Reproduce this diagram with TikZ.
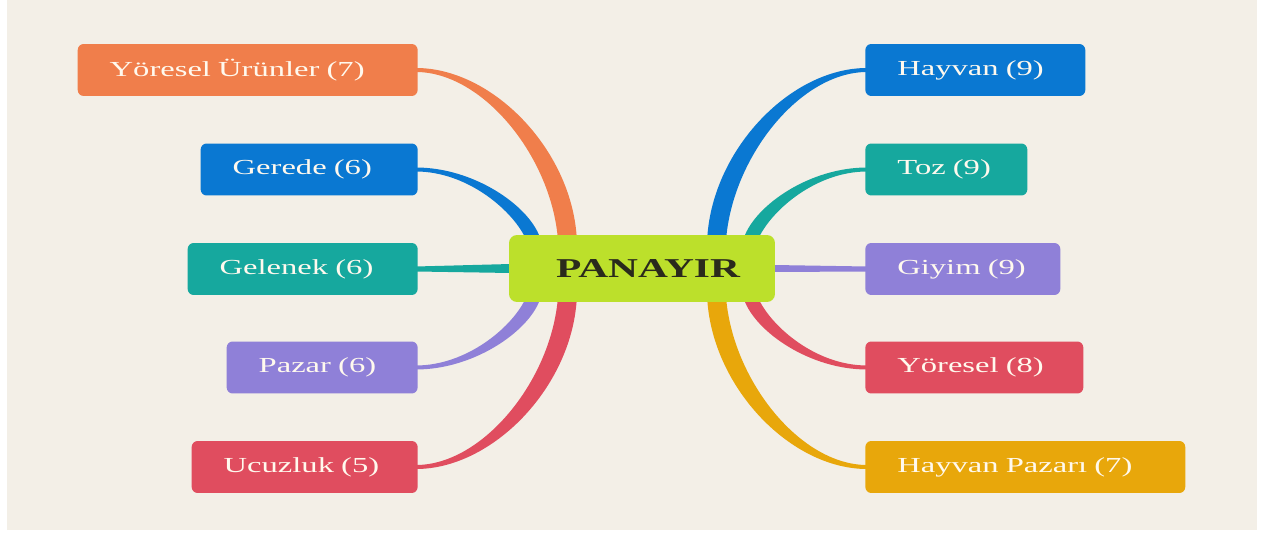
\documentclass[tikz,border=0pt]{standalone}
\usepackage{fontspec}
\setmainfont{Liberation Serif}
\newfontfamily\leaffont[FakeStretch=1.52]{Liberation Serif}
\usetikzlibrary{calc}
\pgfdeclarelayer{bg}
\pgfdeclarelayer{links}
\pgfsetlayers{bg,links,main}
\definecolor{cOr}{HTML}{F07E4B}
\definecolor{cBl}{HTML}{0A78D2}
\definecolor{cTe}{HTML}{16A89E}
\definecolor{cPu}{HTML}{8F80D8}
\definecolor{cRe}{HTML}{E04D5F}
\definecolor{cAm}{HTML}{E8A70B}
\definecolor{cLi}{HTML}{BCE02B}
\definecolor{cBg}{HTML}{F3EFE7}
\definecolor{cTx}{HTML}{FFF9EE}
\definecolor{cDk}{HTML}{2A2A1C}
\tikzset{
  leaf/.style={rectangle, rounded corners=0.12cm, minimum height=1.04cm,
    inner xsep=0.64cm, inner ysep=0pt, align=left, text=cTx,
    font=\leaffont\fontsize{12.2pt}{14pt}\selectfont},
  hub/.style={rectangle, rounded corners=0.16cm, fill=cLi, minimum height=1.34cm,
    minimum width=5.32cm, inner xsep=0.94cm, inner ysep=0pt, align=left, text width=3.44cm,
    text=cDk, font=\leaffont\fontsize{15.5pt}{18pt}\selectfont\bfseries}
}
\newcommand\outerbranch[3]{\fill[#1] ($(#2)+(-2,-2)$) .. controls +(76,0) and +(-6,-88) .. ($(#3)+(10,2)$) -- ($(#3)+(-9,2)$) .. controls +(-8,-82) and +(66,0) .. ($(#2)+(-2,2)$) -- cycle;}
\newcommand\innerbranch[3]{\fill[#1] ($(#2)+(-2,-2)$) .. controls +(57,0) and +(-12,-32) .. ($(#3)+(8,2)$) -- ($(#3)+(-7,2)$) .. controls +(-14,-28) and +(50,0) .. ($(#2)+(-2,2)$) -- cycle;}
\begin{document}
\begin{tikzpicture}[x=0.02cm, y=-0.02cm]
\useasboundingbox (0,0) rectangle (1262,540);
\begin{pgfonlayer}{bg}
  \fill[white] (0,0) rectangle (1262,540);
  \fill[cBg] (7,0) rectangle (1257,530);
\end{pgfonlayer}
% hub
\node[hub] (c) at (642,268.5) {PANAYIR};
% left leaves
\node[leaf, fill=cOr, anchor=east, text width=5.52cm] (yu) at (418,70) {Yöresel Ürünler (7)};
\node[leaf, fill=cBl, anchor=east, text width=3.06cm] (ge) at (418,169.5) {Gerede (6)};
\node[leaf, fill=cTe, anchor=east, text width=3.32cm] (gl) at (418,269) {Gelenek (6)};
\node[leaf, fill=cPu, anchor=east, text width=2.54cm] (pz) at (418,367.5) {Pazar (6)};
\node[leaf, fill=cRe, anchor=east, text width=3.24cm] (uc) at (418,467) {Ucuzluk (5)};
% right leaves
\node[leaf, fill=cBl, anchor=west, text width=3.12cm] (hy) at (865,70) {Hayvan (9)};
\node[leaf, fill=cTe, anchor=west, text width=1.96cm] (tz) at (865,169.5) {Toz (9)};
\node[leaf, fill=cPu, anchor=west, text width=2.62cm] (gy) at (865,269) {Giyim (9)};
\node[leaf, fill=cRe, anchor=west, text width=3.08cm] (yr) at (865,367.5) {Yöresel (8)};
\node[leaf, fill=cAm, anchor=west, text width=5.12cm] (hp) at (865,467) {Hayvan Pazarı (7)};
% attachment points on the hub
\coordinate (oTL) at ($(c.north west)+(58,0)$);
\coordinate (iTL) at ($(c.north west)+(23,0)$);
\coordinate (oBL) at ($(c.south west)+(58,0)$);
\coordinate (iBL) at ($(c.south west)+(23,0)$);
\coordinate (oTR) at ($(c.north east)+(-58,0)$);
\coordinate (iTR) at ($(c.north east)+(-23,0)$);
\coordinate (oBR) at ($(c.south east)+(-58,0)$);
\coordinate (iBR) at ($(c.south east)+(-23,0)$);
\begin{pgfonlayer}{links}
  \outerbranch{cOr}{yu.east}{oTL}
  \innerbranch{cBl}{ge.east}{iTL}
  \fill[cTe] ($(gl.east)+(-2,-2.5)$) -- ($(c.west)+(2,-4.5)$) -- ($(c.west)+(2,4.5)$) -- ($(gl.east)+(-2,2.5)$) -- cycle;
  \begin{scope}[yscale=-1]
    \outerbranch{cRe}{uc.east}{oBL}
    \innerbranch{cPu}{pz.east}{iBL}
  \end{scope}
  \begin{scope}[xscale=-1]
    \outerbranch{cBl}{hy.west}{oTR}
    \innerbranch{cTe}{tz.west}{iTR}
  \end{scope}
  \fill[cPu] ($(gy.west)+(2,-2.5)$) -- ($(c.east)+(-2,-3.5)$) -- ($(c.east)+(-2,3.5)$) -- ($(gy.west)+(2,2.5)$) -- cycle;
  \begin{scope}[xscale=-1, yscale=-1]
    \outerbranch{cAm}{hp.west}{oBR}
    \innerbranch{cRe}{yr.west}{iBR}
  \end{scope}
\end{pgfonlayer}
\end{tikzpicture}
\end{document}
